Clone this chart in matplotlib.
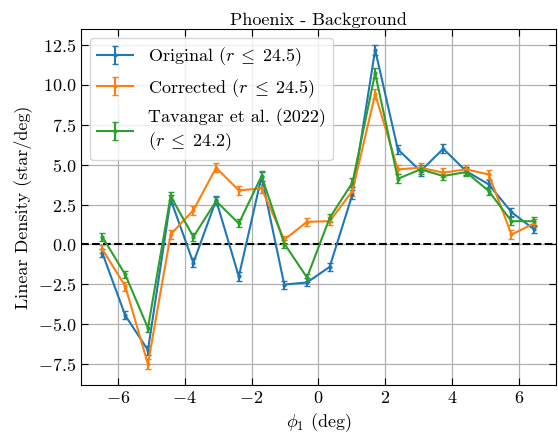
import numpy as np
import matplotlib
matplotlib.use('Agg')
import matplotlib.pyplot as plt

plt.rcParams['font.family'] = 'serif'
plt.rcParams['font.serif'] = ['cmr10']
plt.rcParams['mathtext.fontset'] = 'cm'
plt.rcParams['axes.formatter.use_mathtext'] = True
plt.rcParams['font.size'] = 13

# bin centres along phi_1 (deg)
phi1 = [-6.46, -5.78, -5.10, -4.42, -3.74, -3.06, -2.38, -1.70, -1.02, -0.34,
        0.34, 1.02, 1.70, 2.38, 3.06, 3.74, 4.42, 5.10, 5.78, 6.46]

original = [-0.56, -4.44, -6.62, 2.82, -1.15, 2.78, -2.00, 4.25, -2.51, -2.38,
            -1.40, 3.14, 12.20, 5.96, 4.60, 6.00, 4.60, 3.77, 2.03, 0.94]
original_err = [0.25, 0.25, 0.28, 0.28, 0.28, 0.28, 0.28, 0.3, 0.25, 0.25,
                0.25, 0.28, 0.3, 0.28, 0.28, 0.28, 0.25, 0.25, 0.25, 0.25]

corrected = [-0.31, -2.61, -7.49, 0.63, 2.15, 4.81, 3.39, 3.52, 0.30, 1.42,
             1.46, 3.35, 9.42, 4.71, 4.81, 4.50, 4.71, 4.39, 0.63, 1.32]
corrected_err = [0.25, 0.28, 0.3, 0.28, 0.28, 0.28, 0.28, 0.28, 0.25, 0.25,
                 0.25, 0.28, 0.3, 0.28, 0.28, 0.28, 0.25, 0.3, 0.3, 0.25]

tavangar = [0.46, -1.88, -5.23, 3.03, 0.48, 2.72, 1.32, 4.29, 0.06, -2.07,
            1.67, 3.87, 10.73, 4.12, 4.71, 4.29, 4.54, 3.35, 1.46, 1.46]
tavangar_err = [0.25, 0.25, 0.25, 0.25, 0.25, 0.25, 0.25, 0.3, 0.25, 0.25,
                0.25, 0.28, 0.3, 0.28, 0.28, 0.25, 0.25, 0.25, 0.25, 0.25]

fig = plt.figure(figsize=(5.58, 4.37), dpi=100)
ax = fig.add_axes([0.145, 0.119, 0.851, 0.815])

ax.errorbar(phi1, original, yerr=original_err, marker='.', ms=4, capsize=2,
            lw=1.5, color='C0', label=r'Original ($r \;\leq\; 24.5$)')
ax.errorbar(phi1, corrected, yerr=corrected_err, marker='.', ms=4, capsize=2,
            lw=1.5, color='C1', label=r'Corrected ($r \;\leq\; 24.5$)')
ax.errorbar(phi1, tavangar, yerr=tavangar_err, marker='.', ms=4, capsize=2,
            lw=1.5, color='C2',
            label='Tavangar et al. (2022)\n' + r'($r \;\leq\; 24.2$)')
ax.axhline(0, color='k', ls='--', lw=1.5, zorder=1)

ax.grid(True, color='#b0b0b0', lw=0.9)
ax.set_axisbelow(True)
ax.tick_params(direction='in', top=True, right=True, length=5)
ax.set_xlabel(r'$\phi_1$ (deg)')
ax.set_ylabel('Linear Density (star/deg)')
ax.set_title('Phoenix - Background', fontsize=13, pad=3)
ax.legend(loc='upper left')

fig.savefig('out.png', dpi=100)
